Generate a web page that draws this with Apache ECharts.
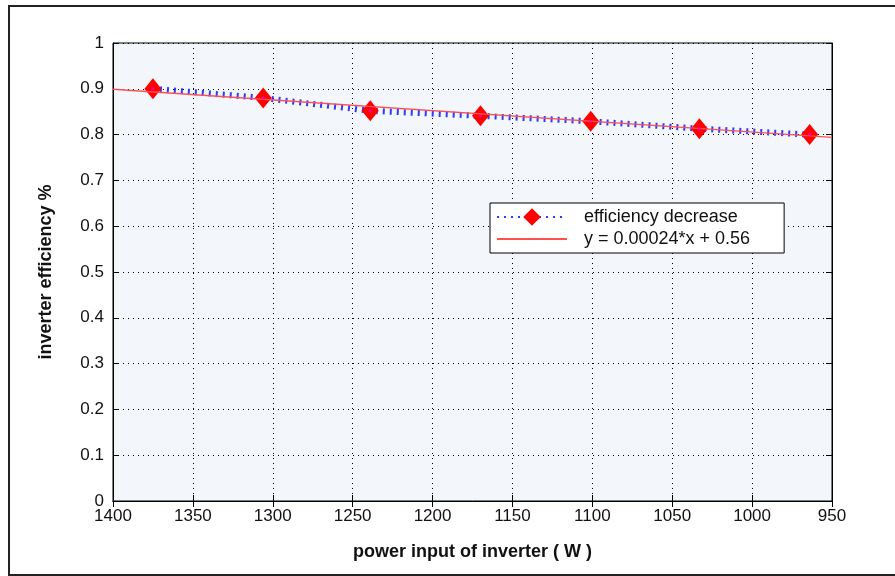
<!DOCTYPE html>
<html>
<head>
<meta charset="utf-8">
<script src="https://cdn.jsdelivr.net/npm/echarts@6/dist/echarts.min.js"></script>
<style>
  html, body { margin: 0; padding: 0; background: #fff; }
  #chart { width: 895px; height: 576px; }
  .frame {
    position: absolute;
    left: 8px;
    top: 5px;
    width: 900px;
    height: 567px;
    border: 2px solid #222;
    pointer-events: none;
  }
</style>
</head>
<body>
<div id="chart"></div>
<div class="frame"></div>
<script>
  // measured points (power input in W, efficiency)
  const powerInput = [1375, 1306, 1239, 1170, 1101, 1033, 964];
  const efficiency = [0.900, 0.880, 0.852, 0.841, 0.829, 0.813, 0.800];

  // linear fit drawn across the whole axis
  const fitX = [1400, 950];
  const fitY = [0.899, 0.794];

  const xTicks = [1400, 1350, 1300, 1250, 1200, 1150, 1100, 1050, 1000, 950];
  const yTicks = [0, 0.1, 0.2, 0.3, 0.4, 0.5, 0.6, 0.7, 0.8, 0.9, 1];

  const font = "Liberation Sans, Arial, sans-serif";

  const measured = powerInput.map((x, i) => [x, efficiency[i]]);
  const fitted = fitX.map((x, i) => [x, fitY[i]]);

  const gridLine = { show: true, lineStyle: { color: "#000", type: [1, 4], width: 1 } };

  const option = {
    animation: false,
    backgroundColor: "#fff",
    grid: {
      left: 113,
      right: 63,
      top: 43,
      bottom: 75,
      show: true,
      backgroundColor: "#f3f6fb",
      borderColor: "#000",
      borderWidth: 1
    },
    legend: {
      orient: "vertical",
      left: 490,
      top: 203,
      itemWidth: 70,
      itemHeight: 22,
      itemGap: 4,
      padding: [5, 34, 5, 6],
      backgroundColor: "#fff",
      borderColor: "#000",
      borderWidth: 1,
      textStyle: { fontFamily: font, fontSize: 18, color: "#111", padding: [0, 0, 0, 12] },
      data: ["efficiency decrease", "y = 0.00024*x + 0.56"]
    },
    xAxis: [
      {
        type: "value",
        inverse: true,
        min: 950,
        max: 1400,
        interval: 50,
        name: "power input of inverter ( W )",
        nameLocation: "middle",
        nameGap: 42,
        nameTextStyle: { fontFamily: font, fontSize: 18, fontWeight: "bold", color: "#111" },
        axisLine: { show: true, lineStyle: { color: "#000" } },
        axisTick: { show: true, inside: true, length: 6, lineStyle: { color: "#000" } },
        axisLabel: {
          fontFamily: font,
          fontSize: 17,
          color: "#111",
          margin: 7,
          formatter: v => xTicks.includes(v) ? String(v) : ""
        },
        splitLine: gridLine
      },
      {
        type: "value",
        position: "top",
        inverse: true,
        min: 950,
        max: 1400,
        interval: 50,
        axisLine: { show: true, lineStyle: { color: "#000" } },
        axisTick: { show: true, inside: true, length: 6, lineStyle: { color: "#000" } },
        axisLabel: { show: false },
        splitLine: { show: false }
      }
    ],
    yAxis: [
      {
        type: "value",
        min: 0,
        max: 1,
        interval: 0.1,
        name: "inverter efficiency %",
        nameLocation: "middle",
        nameGap: 58,
        nameTextStyle: { fontFamily: font, fontSize: 18, fontWeight: "bold", color: "#111" },
        axisLine: { show: true, lineStyle: { color: "#000" } },
        axisTick: { show: true, inside: true, length: 6, lineStyle: { color: "#000" } },
        axisLabel: {
          fontFamily: font,
          fontSize: 17,
          color: "#111",
          margin: 9,
          formatter: v => {
            const t = yTicks.find(y => Math.abs(y - v) < 1e-6);
            return t === undefined ? "" : String(t);
          }
        },
        splitLine: gridLine
      },
      {
        type: "value",
        position: "right",
        min: 0,
        max: 1,
        interval: 0.1,
        axisLine: { show: true, lineStyle: { color: "#000" } },
        axisTick: { show: true, inside: true, length: 6, lineStyle: { color: "#000" } },
        axisLabel: { show: false },
        splitLine: { show: false }
      }
    ],
    series: [
      {
        name: "efficiency decrease",
        type: "line",
        data: measured,
        symbol: "diamond",
        symbolSize: [17, 21],
        showAllSymbol: true,
        lineStyle: { color: "#2b3cff", width: 6, type: [2, 5] },
        itemStyle: { color: "#ff0000", borderWidth: 0 },
        z: 2
      },
      {
        name: "y = 0.00024*x + 0.56",
        type: "line",
        data: fitted,
        symbol: "none",
        lineStyle: { color: "#ff5050", width: 1.3 },
        itemStyle: { color: "rgba(0,0,0,0)" },
        z: 3
      },
      {
        name: "centres",
        type: "scatter",
        data: measured,
        symbol: "circle",
        symbolSize: 3,
        itemStyle: { color: "#ff00cc" },
        silent: true,
        z: 4
      }
    ]
  };

  const chart = echarts.init(document.getElementById("chart"));
  chart.setOption(option);
</script>
</body>
</html>
